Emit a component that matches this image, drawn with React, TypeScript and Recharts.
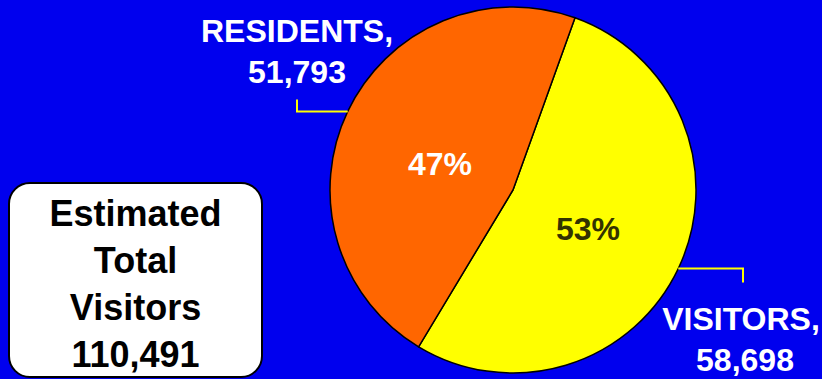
import { PieChart, Pie, Cell } from "recharts";

const categories = ["VISITORS", "RESIDENTS"];
const counts = [58698, 51793];
const percents = ["53%", "47%"];
const countLabels = ["58,698", "51,793"];
const totalLines = ["Estimated", "Total", "Visitors", "110,491"];

const colors = ["#FFFF00", "#FF6600"];
const pctColors = ["#333300", "#FFFFFF"];

const data = categories.map((name, i) => ({ name, value: counts[i] }));

const RAD = Math.PI / 180;
const font = "'Liberation Sans', Arial, sans-serif";

function renderLabel(props: any) {
  const { cx, cy, midAngle, outerRadius, index } = props;
  const ex = cx + outerRadius * Math.cos(-midAngle * RAD);
  const ey = cy + outerRadius * Math.sin(-midAngle * RAD);
  const right = index === 0;
  // percent inside the slice
  const px = right ? cx + 75 : cx - 73;
  const py = right ? cy + 50 : cy - 15;
  // outside name label
  const lx = right ? cx + 230 : cx - 216;
  const elbowY = right ? ey + 14 : ey - 12;
  const ty = right ? cy + 140 : cy - 148;
  return (
    <g>
      <text x={px} y={py} textAnchor="middle" fill={pctColors[index]} fontFamily={font} fontWeight="bold" fontSize={32}>
        {percents[index]}
      </text>
      <polyline points={`${ex},${ey} ${lx},${ey} ${lx},${elbowY}`} fill="none" stroke="#FFFF00" strokeWidth={2} />
      <text x={right ? lx - 2 : lx} y={ty} textAnchor="middle" fill="#FFFFFF" fontFamily={font} fontWeight="bold" fontSize={32}>
        {categories[index] + ","}
      </text>
      <text x={right ? lx + 2 : lx} y={ty + 41} textAnchor="middle" fill="#FFFFFF" fontFamily={font} fontWeight="bold" fontSize={32}>
        {countLabels[index]}
      </text>
    </g>
  );
}

export default function App() {
  return (
    <div style={{ position: "absolute", left: 0, top: 0, width: 822, height: 379, background: "#0000EE", overflow: "hidden" }}>
      <PieChart width={822} height={379} margin={{ top: 0, right: 0, bottom: 0, left: 0 }}>
        <Pie
          data={data}
          dataKey="value"
          cx={513}
          cy={190}
          outerRadius={183}
          startAngle={70.2}
          endAngle={-289.8}
          stroke="#000"
          strokeWidth={1.5}
          label={renderLabel}
          labelLine={false}
          isAnimationActive={false}
        >
          {data.map((d, i) => (
            <Cell key={d.name} fill={colors[i]} />
          ))}
        </Pie>
      </PieChart>
      <div
        style={{
          position: "absolute",
          left: 8,
          top: 182,
          width: 251,
          height: 186,
          background: "#fff",
          border: "2px solid #000",
          borderRadius: 22,
          fontFamily: font,
          fontWeight: "bold",
          fontSize: 36,
          lineHeight: "47px",
          textAlign: "center",
          paddingTop: 6,
          boxSizing: "content-box",
        }}
      >
        {totalLines.map((t) => (
          <div key={t}>{t}</div>
        ))}
      </div>
    </div>
  );
}
